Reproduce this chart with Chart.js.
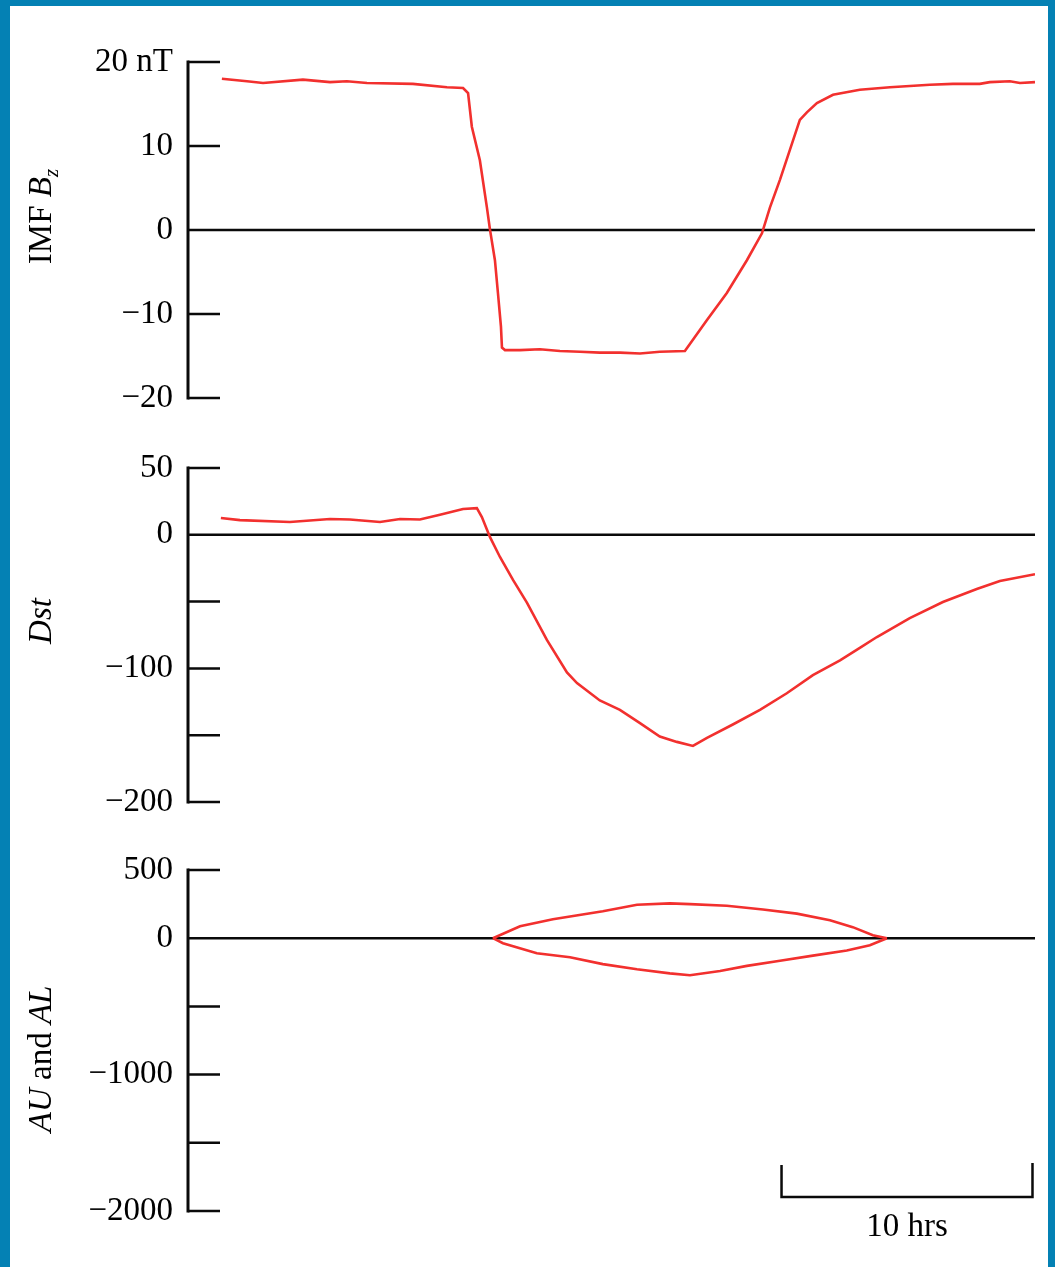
<!DOCTYPE html>
<html>
<head>
<meta charset="utf-8">
<script src="https://cdn.jsdelivr.net/npm/chart.js@4.4.0/dist/chart.umd.min.js"></script>
<style>
    body { margin: 0; background: #fff; }
    #frame {
        position: relative;
        width: 1055px;
        height: 1267px;
        box-sizing: border-box;
        background: #fff;
        border-top: 6px solid #0481b4;
        border-left: 10px solid #0481b4;
        border-right: 7px solid #0481b4;
    }
    canvas { position: absolute; left: 0; }
</style>
</head>
<body>
<div id="frame">
    <canvas id="bzChart" width="1055" height="440" style="top:-6px;left:-10px"></canvas>
    <canvas id="dstChart" width="1055" height="400" style="top:434px;left:-10px"></canvas>
    <canvas id="aeChart" width="1055" height="427" style="top:834px;left:-10px"></canvas>
</div>
<script>
// time axis in hours from the left axis
const HOURS_MAX = 33.75;

// IMF Bz (nT)
const bzTime = [1.35, 2.35, 2.99, 4.58, 5.66, 6.33, 7.13, 8.96, 10.32, 10.96, 11.16, 11.31, 11.63, 11.91,
    12.03, 12.23, 12.35, 12.47, 12.51, 12.63, 13.23, 14.02, 14.82, 15.62, 16.41, 17.21, 18.01, 18.80,
    19.80, 20.68, 21.47, 22.27, 22.87, 23.19, 23.59, 23.98, 24.38, 24.66, 25.06, 25.70, 26.77, 27.97,
    29.56, 30.48, 31.55, 31.95, 32.75, 33.15, 33.75];
const bzValues = [18.0, 17.7, 17.5, 17.9, 17.6, 17.7, 17.5, 17.4, 17.0, 16.9, 16.3, 12.3, 8.3, 2.7,
    0.1, -3.6, -7.5, -11.5, -14.0, -14.3, -14.3, -14.2, -14.4, -14.5, -14.6, -14.6, -14.7, -14.5,
    -14.4, -10.7, -7.5, -3.6, -0.4, 2.7, 6.0, 9.5, 13.1, 14.0, 15.1, 16.1, 16.7, 17.0,
    17.3, 17.4, 17.4, 17.6, 17.7, 17.5, 17.6];

// Dst (nT)
const dstTime = [1.31, 2.07, 4.06, 5.66, 6.45, 7.65, 8.45, 9.24, 10.04, 10.96, 11.51, 11.71, 12.03,
    12.43, 12.95, 13.51, 14.30, 15.10, 15.50, 16.41, 17.21, 18.01, 18.80, 19.48, 20.12, 20.68, 21.71,
    22.79, 23.86, 24.90, 25.98, 26.77, 27.45, 28.76, 30.08, 31.43, 32.35, 33.75];
const dstValues = [12.6, 11.0, 9.6, 11.8, 11.5, 9.6, 11.8, 11.5, 15.0, 19.3, 20.0, 13.3, -1.6,
    -16.6, -33.8, -51, -78.7, -103, -111, -124, -131, -141, -151, -155, -158, -152, -142,
    -131, -118.6, -105, -94, -84.7, -76.5, -62.4, -50.3, -40.6, -34.6, -29.5];

// AU and AL (nT)
const auTime = [12.15, 13.23, 14.54, 16.53, 17.89, 19.20, 20.00, 21.47, 22.91, 24.26, 25.58, 26.49, 27.29, 27.85];
const auValues = [0, 88, 139, 198, 245, 255, 250, 238, 210, 180, 132, 81, 22, 0];
const alTime = [12.15, 12.55, 13.90, 15.22, 16.53, 17.89, 19.20, 20.00, 21.20, 22.27, 23.59, 24.90, 26.25, 27.17, 27.85];
const alValues = [0, -37, -110, -140, -190, -228, -258, -272, -240, -203, -165, -128, -90, -52, 0];

const SERIF = "'Liberation Serif', 'Times New Roman', serif";
const RED = '#f2302e';
const INK = '#0a0a0a';

function points(times, values) {
    return times.map((t, i) => ({ x: t, y: values[i] }));
}

function minus(v) {
    return v < 0 ? '\u2212' + Math.abs(v) : String(v);
}

// y axis, inward ticks and the zero line
const axisFrame = {
    id: 'axisFrame',
    beforeDatasetsDraw(chart) {
        const { ctx } = chart;
        const x = chart.scales.x, y = chart.scales.y;
        ctx.save();
        ctx.strokeStyle = INK;
        ctx.lineWidth = 3;
        ctx.beginPath();
        ctx.moveTo(x.left, y.top - 1.5);
        ctx.lineTo(x.left, y.bottom + 1.5);
        ctx.stroke();
        ctx.lineWidth = 2.5;
        ctx.beginPath();
        y.ticks.forEach(t => {
            const py = y.getPixelForValue(t.value);
            ctx.moveTo(x.left, py);
            ctx.lineTo(x.left + 32, py);
        });
        const y0 = y.getPixelForValue(0);
        ctx.moveTo(x.left, y0);
        ctx.lineTo(x.right, y0);
        ctx.stroke();
        ctx.restore();
    }
};

// rotated axis title with mixed italic parts
const sideTitle = {
    id: 'sideTitle',
    afterDraw(chart, args, opts) {
        if (!opts.parts) return;
        const { ctx, chartArea } = chart;
        const cy = chartArea.top + (chartArea.bottom - chartArea.top) * opts.pos;
        ctx.save();
        ctx.translate(51, cy);
        ctx.rotate(-Math.PI / 2);
        ctx.fillStyle = '#000';
        ctx.textBaseline = 'alphabetic';
        ctx.textAlign = 'left';
        const fontOf = p => `${p.italic ? 'italic ' : ''}${p.size || 33}px ${SERIF}`;
        let total = 0;
        opts.parts.forEach(p => { ctx.font = fontOf(p); total += ctx.measureText(p.text).width; });
        let px = -total / 2;
        opts.parts.forEach(p => {
            ctx.font = fontOf(p);
            ctx.fillText(p.text, px, p.sub ? 7 : 0);
            px += ctx.measureText(p.text).width;
        });
        ctx.restore();
    }
};

// "10 hrs" scale bar
const SCALE_BAR_START = 23.65;
const SCALE_BAR_HOURS = 10;
const scaleBar = {
    id: 'scaleBar',
    afterDraw(chart, args, opts) {
        if (!opts.show) return;
        const { ctx, chartArea } = chart;
        const x = chart.scales.x;
        const x1 = x.getPixelForValue(SCALE_BAR_START);
        const x2 = x.getPixelForValue(SCALE_BAR_START + SCALE_BAR_HOURS);
        const base = chartArea.bottom - 14;
        ctx.save();
        ctx.strokeStyle = INK;
        ctx.lineWidth = 2.5;
        ctx.beginPath();
        ctx.moveTo(x1, base - 32);
        ctx.lineTo(x1, base);
        ctx.lineTo(x2, base);
        ctx.lineTo(x2, base - 34);
        ctx.stroke();
        ctx.fillStyle = '#000';
        ctx.font = `33px ${SERIF}`;
        ctx.textAlign = 'center';
        ctx.textBaseline = 'middle';
        ctx.fillText(SCALE_BAR_HOURS + ' hrs', (x1 + x2) / 2, chartArea.bottom + 16);
        ctx.restore();
    }
};

function makePanel(id, datasets, yOpts, padding, title, showBar) {
    const canvas = document.getElementById(id);
    return new Chart(canvas.getContext('2d'), {
        type: 'line',
        data: {
            datasets: datasets.map(d => ({
                data: d,
                borderColor: RED,
                borderWidth: 2.6,
                pointRadius: 0,
                tension: 0,
                fill: false
            }))
        },
        options: {
            responsive: false,
            animation: false,
            devicePixelRatio: 1,
            layout: { padding: padding },
            scales: {
                x: { type: 'linear', min: 0, max: HOURS_MAX, display: false },
                y: {
                    min: yOpts.min,
                    max: yOpts.max,
                    afterFit(scale) {
                        scale.width = 188;
                        scale.paddingTop = 0;
                        scale.paddingBottom = 0;
                    },
                    border: { display: false },
                    grid: { display: false, drawTicks: false },
                    ticks: {
                        stepSize: yOpts.step,
                        padding: 15,
                        color: '#000',
                        font: { family: SERIF, size: 33 },
                        callback: yOpts.label
                    }
                }
            },
            plugins: {
                legend: { display: false },
                tooltip: { enabled: false },
                sideTitle: title,
                scaleBar: { show: showBar }
            }
        },
        plugins: [axisFrame, sideTitle, scaleBar]
    });
}

makePanel('bzChart',
    [points(bzTime, bzValues)],
    { min: -20, max: 20, step: 10, label: v => v === 20 ? '20 nT' : minus(v) },
    { left: 0, right: 20, top: 62, bottom: 42 },
    { parts: [{ text: 'IMF ' }, { text: 'B', italic: true }, { text: 'z', italic: true, size: 21, sub: true }], pos: 0.46 },
    false);

makePanel('dstChart',
    [points(dstTime, dstValues)],
    { min: -200, max: 50, step: 50, label: v => (v === -50 || v === -150) ? '' : minus(v) },
    { left: 0, right: 20, top: 28, bottom: 38 },
    { parts: [{ text: 'Dst', italic: true }], pos: 0.458 },
    false);

makePanel('aeChart',
    [points(auTime, auValues), points(alTime, alValues)],
    { min: -2000, max: 500, step: 500, label: v => (v === -500 || v === -1500) ? '' : minus(v) },
    { left: 0, right: 20, top: 30, bottom: 56 },
    { parts: [{ text: 'AU', italic: true }, { text: ' and ' }, { text: 'AL', italic: true }], pos: 0.554 },
    true);
</script>
</body>
</html>
